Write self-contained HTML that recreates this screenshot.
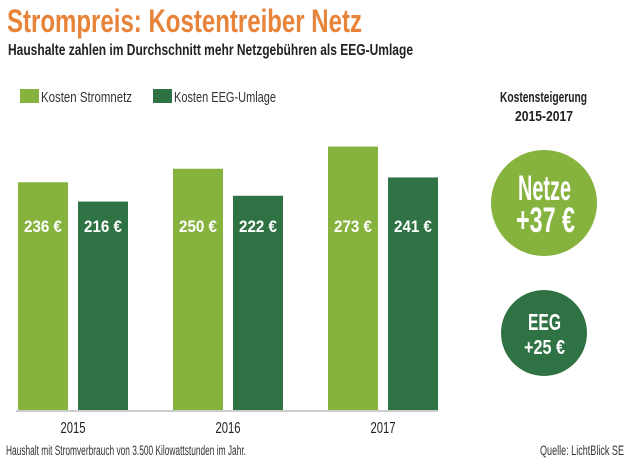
<!DOCTYPE html>
<html><head><meta charset="utf-8"><style>
body{margin:0;background:#fff;width:630px;height:460px;overflow:hidden;font-family:"Liberation Sans",sans-serif}
svg text{font-family:"Liberation Sans",sans-serif}
</style></head><body>
<svg width="630" height="460">
<text x="7" y="32" font-size="32" font-weight="bold" fill="#e8843a" textLength="355" lengthAdjust="spacingAndGlyphs">Strompreis: Kostentreiber Netz</text>
<text x="8" y="55" font-size="16" font-weight="bold" fill="#222" textLength="405" lengthAdjust="spacingAndGlyphs">Haushalte zahlen im Durchschnitt mehr Netzgebühren als EEG-Umlage</text>
<g>
<rect x="20" y="89" width="19" height="14" fill="#86b23e"/>
<text x="41" y="102" font-size="15" fill="#333" textLength="91" lengthAdjust="spacingAndGlyphs">Kosten Stromnetz</text>
<rect x="153" y="89" width="19" height="14" fill="#2f7244"/>
<text x="174" y="102" font-size="15" fill="#333" textLength="102" lengthAdjust="spacingAndGlyphs">Kosten EEG-Umlage</text>
</g>
<g id="bars"></g>
<line x1="16" y1="411" x2="438" y2="411" stroke="#ccc" stroke-width="2"/>
<text x="500" y="102" font-size="15" font-weight="bold" fill="#222" textLength="87" lengthAdjust="spacingAndGlyphs">Kostensteigerung</text>
<text x="544" y="121" font-size="15" font-weight="bold" fill="#222" text-anchor="middle" textLength="58" lengthAdjust="spacingAndGlyphs">2015-2017</text>
<circle cx="544" cy="203" r="53" fill="#86b23e"/>
<text x="518" y="200" font-size="35" font-weight="bold" fill="#fff" textLength="53" lengthAdjust="spacingAndGlyphs">Netze</text>
<text x="516" y="232" font-size="35" font-weight="bold" fill="#fff" textLength="59" lengthAdjust="spacingAndGlyphs">+37 €</text>
<circle cx="544" cy="333" r="43" fill="#2f7244"/>
<text x="528" y="330" font-size="23" font-weight="bold" fill="#fff" textLength="33" lengthAdjust="spacingAndGlyphs">EEG</text>
<text x="524" y="354" font-size="20" font-weight="bold" fill="#fff" textLength="41" lengthAdjust="spacingAndGlyphs">+25 €</text>
<text x="6" y="455" font-size="13.5" fill="#333" textLength="240" lengthAdjust="spacingAndGlyphs">Haushalt mit Stromverbrauch von 3.500 Kilowattstunden im Jahr.</text>
<text x="540" y="455" font-size="13.5" fill="#333" textLength="84" lengthAdjust="spacingAndGlyphs">Quelle: LichtBlick SE</text>
</svg>
<script>
const years=["2015","2016","2017"];
const netz=[236,250,273];
const eeg=[216,222,241];
const g=document.getElementById('bars');
const NS="http://www.w3.org/2000/svg";
function y(v){return 410-v*0.965;}
function gx(i){return 18+i*155;}
function mk(t,a){const e=document.createElementNS(NS,t);for(const k in a)e.setAttribute(k,a[k]);g.appendChild(e);return e;}
years.forEach((yr,i)=>{
  [[netz[i],"#86b23e",0,"bar-netz-"],[eeg[i],"#2f7244",60,"bar-eeg-"]].forEach(([v,c,off,n])=>{
    const r=mk('rect',{x:gx(i)+off,y:y(v),width:50,height:410-y(v),fill:c});
    
    
    const t=mk('text',{x:gx(i)+off+25,y:232,'font-size':17,'font-weight':'bold',fill:'#fff','text-anchor':'middle',textLength:38,lengthAdjust:'spacingAndGlyphs'});
    t.textContent=v+' €';
    
    
  });
  const l=mk('text',{x:gx(i)+55,y:433,'font-size':16,fill:'#222','text-anchor':'middle',textLength:25,lengthAdjust:'spacingAndGlyphs'});
  l.textContent=yr;
  
  
});
</script>
</body></html>
